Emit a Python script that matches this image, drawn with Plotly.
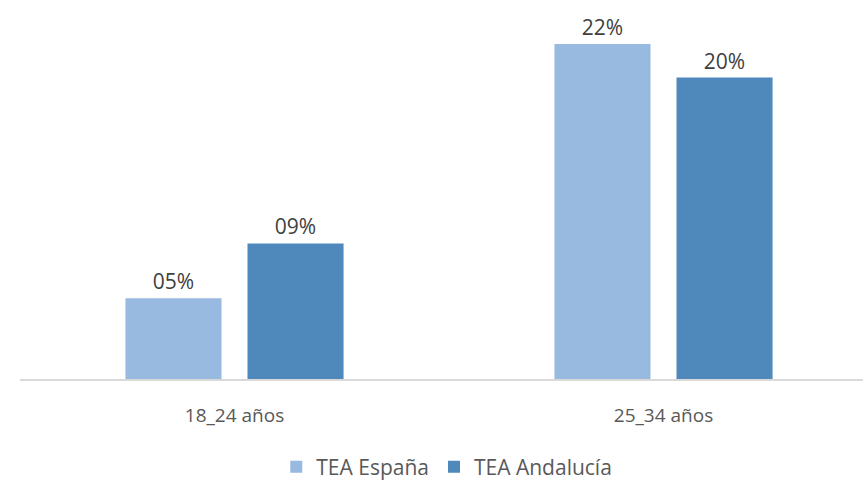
import plotly.graph_objects as go

categories = ["18_24 años", "25_34 años"]
tea_espana = [0.053, 0.22]
tea_andalucia = [0.089, 0.198]
series_names = ["TEA España", "TEA Andalucía"]
colors = ["#98b9e0", "#4f88bb"]

label_font = dict(family="Open Sans", size=21, color="#404040")

fig = go.Figure()
for name, vals, col in zip(series_names, [tea_espana, tea_andalucia], colors):
    fig.add_trace(go.Bar(
        x=categories, y=vals, name=name,
        marker=dict(color=col, line=dict(width=0)),
        texttemplate="%{y:03.0%}", textposition="outside",
        textfont=label_font, cliponaxis=False,
    ))

fig.update_layout(
    width=863, height=480,
    margin=dict(l=20, r=0, t=0, b=101),
    paper_bgcolor="white", plot_bgcolor="white",
    barmode="group", bargap=0.431, bargroupgap=0.213,
    font=dict(family="Open Sans", color="#595959"),
    showlegend=True,
    legend=dict(orientation="h", x=0.304, xanchor="left",
                yref="container", y=0.027, yanchor="middle",
                font=dict(size=21, color="#595959"), itemwidth=30, traceorder="normal"),
    xaxis=dict(range=[-0.5, 1.465], showline=True, linecolor="#d9d9d9", linewidth=1.5,
               showgrid=False, ticks="", tickfont=dict(size=19, color="#595959"),
               ticklabelstandoff=18, zeroline=False, automargin=False),
    yaxis=dict(range=[0, 0.2489], visible=False, showgrid=False, zeroline=False),
)

fig.write_html("out.html")
